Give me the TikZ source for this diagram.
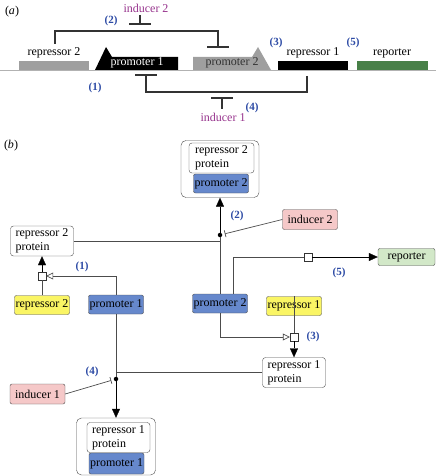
\documentclass[tikz,border=0pt]{standalone}
\usepackage{fontspec}
\setmainfont{Liberation Serif}
\usepackage{tikz}
\usetikzlibrary{arrows.meta,positioning}

\definecolor{promblue}{RGB}{102,136,204}
\definecolor{represyellow}{RGB}{250,245,100}
\definecolor{indpink}{RGB}{245,200,200}
\definecolor{repgreenlt}{RGB}{210,232,200}
\definecolor{repgreen}{RGB}{72,128,72}
\definecolor{numblue}{RGB}{45,75,165}
\definecolor{indpurple}{RGB}{150,50,140}

\begin{document}
\begin{tikzpicture}[%
        x=1pt, y=-1pt,
        >={Triangle[width=8pt,length=9pt]},
        every node/.style={font=\fontsize{12}{14}\selectfont},
        gene/.style={draw=black!70, rounded corners=2pt, inner sep=1pt, minimum height=19pt},
        promo/.style={gene, fill=promblue, minimum width=55pt},
        repr/.style={gene, fill=represyellow, minimum width=55pt},
        ind/.style={gene, fill=indpink, minimum width=55pt, minimum height=20pt},
        prot/.style={draw=black!70, rounded corners=3pt, fill=white, align=left,
                     inner xsep=5pt, inner ysep=1pt, minimum height=30pt},
        cpx/.style={draw=black!70, rounded corners=5pt, fill=white},
        proc/.style={draw=black!80, fill=white, inner sep=0pt, minimum size=8pt},
        dot/.style={circle, fill=black, inner sep=0pt, minimum size=4.5pt},
        num/.style={text=numblue, font=\fontsize{11}{12}\selectfont\bfseries},
        link/.style={draw=black!70, line width=0.7pt},
        brk/.style={draw=black!80, line width=1.2pt},
        opentri/.style={-{Triangle[open,width=7pt,length=7pt]}},
        inhib/.style={-{Bar[width=7pt]}, shorten >=2.5pt}
        ]
        \useasboundingbox (0,0) rectangle (436,476);

        % (a) gene map
        \node (la) at (12,12) {(\textit{a})};
        \draw[gray!60, line width=0.8pt] (0,70) -- (436,70);
        \fill[gray!75] (19,61) rectangle (89,70);
        \fill[black] (95,70) -- (106,47) -- (112,57) -- (178,57) -- (178,70) -- cycle;
        \fill[gray!75] (193,57) -- (252,57) -- (258,47) -- (271,70) -- (193,70) -- cycle;
        \fill[black] (278,61) rectangle (348,70);
        \fill[repgreen] (357,61) rectangle (428,70);

        \node (tr2) at (54,53) {repressor 2};
        \node[text=white] (tp1) at (137,63) {promoter 1};
        \node[text=black!80] (tp2) at (232,63) {promoter 2};
        \node (tr1) at (313,53) {repressor 1};
        \node (trep) at (392,53) {reporter};

        % repression brackets
        \draw[brk] (55,44) -- (55,31) -- (218,31) -- (218,47);
        \draw[brk] (207,47) -- (229,47);
        \draw[brk] (140,15) -- (140,24) (129,24) -- (151,24);
        \node[text=indpurple] (ti2) at (146,8) {inducer 2};
        \draw[brk] (307,76) -- (307,92) -- (146,92) -- (146,75);
        \draw[brk] (135,75) -- (157,75);
        \draw[brk] (222,109) -- (222,98) (211,98) -- (233,98);
        \node[text=indpurple] (ti1) at (223,117) {inducer 1};

        \node[num] at (95,88) {(1)};
        \node[num] at (111,21) {(2)};
        \node[num] at (276,43) {(3)};
        \node[num] at (252,108) {(4)};
        \node[num] at (353,43) {(5)};

        % (b) network
        \node (lb) at (11,146) {(\textit{b})};

        \node[cpx, minimum width=78pt, minimum height=57pt] (cx2) at (220,169) {};
        \node[prot, inner xsep=6pt] (cx2r) at (221.5,158) {repressor 2\\protein};
        \node[promo] (cx2p) at (221,183.5) {promoter 2};

        \node[prot] (r2p) at (42,241) {repressor 2\\protein};
        \node[ind] (ind2) at (310,219.5) {inducer 2};
        \node[dot] (j2) at (220,235) {};
        \node[gene, fill=repgreenlt, minimum width=57pt, minimum height=17pt] (rep) at (406.5,257) {reporter};
        \node[proc] (s5) at (308,257) {};

        \node[repr] (rep2) at (42,305) {repressor 2};
        \node[promo] (p1) at (116,304.5) {promoter 1};
        \node[promo] (p2) at (220,303.5) {promoter 2};
        \node[repr] (rep1) at (294,306) {repressor 1};

        \node[proc] (s1) at (42,276) {};
        \node[proc] (s3) at (294,337) {};
        \node[prot] (r1p) at (294,372.5) {repressor 1\\protein};
        \node[dot] (j4) at (116,379) {};
        \node[ind] (ind1) at (37.5,394) {inducer 1};

        \node[cpx, minimum width=79pt, minimum height=57pt] (cx1) at (116,446.5) {};
        \node[prot] (cx1r) at (118.5,437.5) {repressor 1\\protein};
        \node[promo, minimum height=21pt] (cx1p) at (116.5,463.5) {promoter 1};

        % (1)
        \draw[link] (rep2.north) -- (s1.south);
        \draw[link, opentri] (p1.north) |- (s1.east);
        \path[->] (s1.north) edge (r2p.south);

        % (2)
        \draw[link] (p2.north) -- (j2);
        \draw[link] (r2p.east) -- (r2p.east -| j2);
        \draw[link, inhib] (ind2.west) -- (j2);
        \path[->] (j2) edge (cx2.south);

        % (3)
        \draw[link] (rep1.north) -- (s3.north);
        \draw[link, opentri] (p2.south) |- (s3.west);
        \path[->] (s3.south) edge (r1p.north);

        % (4)
        \draw[link] (p1.south) -- (j4);
        \draw[link] (r1p.west) -- (r1p.west -| j4);
        \draw[link, inhib] (ind1.east) -- (j4);
        \path[->] (j4) edge (cx1.north);

        % (5)
        \draw[link] ([xshift=13pt]p2.north) |- (s5.west);
        \path[->] (s5.east) edge (rep.west);

        \node[num] at (82,267) {(1)};
        \node[num] at (237,216) {(2)};
        \node[num] at (313,337) {(3)};
        \node[num] at (92,372) {(4)};
        \node[num] at (339,273) {(5)};
    \end{tikzpicture}
\end{document}
